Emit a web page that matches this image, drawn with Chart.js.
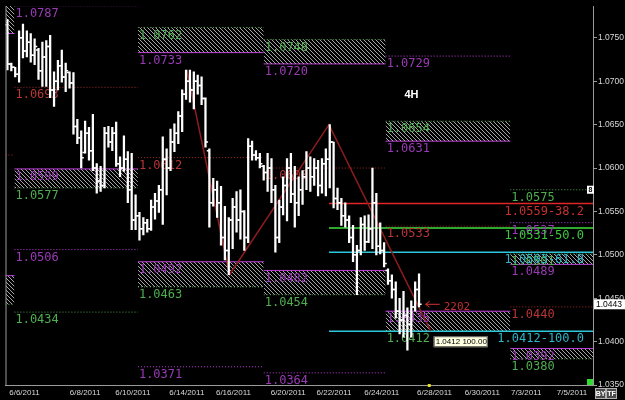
<!DOCTYPE html>
<html>
<head>
<meta charset="utf-8">
<script src="https://cdn.jsdelivr.net/npm/chart.js@4.4.0/dist/chart.umd.min.js"></script>
<style>
html, body { margin: 0; padding: 0; background: #000; }
</style>
</head>
<body>
<canvas id="fxChart" width="625" height="400"></canvas>
<script>
// EUR/USD 4H bars
const highs = [1.0771, 1.0721, 1.0716, 1.0758, 1.0766, 1.0758, 1.0755, 1.0749, 1.0738, 1.0745,
  1.0747, 1.0753, 1.0711, 1.0724, 1.0736, 1.0721, 1.0711, 1.0710, 1.0656, 1.0643,
  1.0654, 1.0647, 1.0662, 1.0605, 1.0602, 1.0647, 1.0648, 1.0647, 1.0653, 1.0613,
  1.0637, 1.0619, 1.0617, 1.0569, 1.0549, 1.0543, 1.0541, 1.0563, 1.0571, 1.0580,
  1.0636, 1.0622, 1.0645, 1.0651, 1.0665, 1.0690, 1.0713, 1.0713, 1.0711, 1.0707,
  1.0705, 1.0681, 1.0622, 1.0588, 1.0585, 1.0579, 1.0556, 1.0543, 1.0565, 1.0573,
  1.0575, 1.0551, 1.0634, 1.0631, 1.0620, 1.0617, 1.0603, 1.0617, 1.0611, 1.0580,
  1.0563, 1.0590, 1.0611, 1.0617, 1.0602, 1.0590, 1.0597, 1.0619, 1.0613, 1.0611,
  1.0609, 1.0611, 1.0622, 1.0650, 1.0630, 1.0577, 1.0565, 1.0560, 1.0545, 1.0534,
  1.0511, 1.0543, 1.0545, 1.0546, 1.0600, 1.0571, 1.0537, 1.0514, 1.0484, 1.0477,
  1.0469, 1.0450, 1.0458, 1.0439, 1.0447, 1.0469, 1.0478];
const lows = [1.0713, 1.0712, 1.0705, 1.0699, 1.0727, 1.0728, 1.0722, 1.0719, 1.0702, 1.0694,
  1.0694, 1.0681, 1.0671, 1.0690, 1.0699, 1.0688, 1.0692, 1.0639, 1.0628, 1.0600,
  1.0617, 1.0609, 1.0597, 1.0571, 1.0573, 1.0577, 1.0624, 1.0620, 1.0602, 1.0590,
  1.0596, 1.0560, 1.0529, 1.0529, 1.0517, 1.0523, 1.0526, 1.0528, 1.0541, 1.0549,
  1.0535, 1.0569, 1.0597, 1.0619, 1.0628, 1.0642, 1.0679, 1.0676, 1.0668, 1.0685,
  1.0673, 1.0624, 1.0532, 1.0556, 1.0543, 1.0511, 1.0494, 1.0477, 1.0507, 1.0526,
  1.0518, 1.0505, 1.0514, 1.0609, 1.0609, 1.0600, 1.0586, 1.0573, 1.0560, 1.0503,
  1.0514, 1.0546, 1.0539, 1.0560, 1.0532, 1.0545, 1.0558, 1.0575, 1.0573, 1.0580,
  1.0568, 1.0571, 1.0568, 1.0577, 1.0554, 1.0552, 1.0534, 1.0532, 1.0514, 1.0492,
  1.0454, 1.0500, 1.0505, 1.0514, 1.0507, 1.0500, 1.0501, 1.0486, 1.0466, 1.0450,
  1.0427, 1.0409, 1.0405, 1.0390, 1.0405, 1.0435, 1.0440];
const opens = [1.0765, 1.0720, 1.0716, 1.0708, 1.0750, 1.0735, 1.0745, 1.0730, 1.0736, 1.0712,
  1.0728, 1.0740, 1.0690, 1.0700, 1.0718, 1.0705, 1.0710, 1.0698, 1.0648, 1.0635,
  1.0618, 1.0640, 1.0620, 1.0600, 1.0585, 1.0580, 1.0640, 1.0630, 1.0640, 1.0605,
  1.0600, 1.0610, 1.0575, 1.0540, 1.0545, 1.0530, 1.0537, 1.0530, 1.0555, 1.0562,
  1.0575, 1.0610, 1.0600, 1.0630, 1.0640, 1.0660, 1.0685, 1.0700, 1.0690, 1.0700,
  1.0695, 1.0680, 1.0620, 1.0560, 1.0575, 1.0560, 1.0520, 1.0505, 1.0540, 1.0555,
  1.0540, 1.0550, 1.0520, 1.0625, 1.0615, 1.0612, 1.0602, 1.0595, 1.0600, 1.0575,
  1.0520, 1.0555, 1.0580, 1.0600, 1.0570, 1.0560, 1.0575, 1.0590, 1.0600, 1.0590,
  1.0600, 1.0580, 1.0605, 1.0610, 1.0630, 1.0565, 1.0560, 1.0545, 1.0540, 1.0520,
  1.0500, 1.0505, 1.0535, 1.0515, 1.0530, 1.0560, 1.0510, 1.0505, 1.0482, 1.0470,
  1.0460, 1.0435, 1.0425, 1.0430, 1.0420, 1.0440, 1.0460];
const closes = [1.0720, 1.0716, 1.0708, 1.0750, 1.0735, 1.0745, 1.0730, 1.0740, 1.0712, 1.0728,
  1.0740, 1.0690, 1.0700, 1.0718, 1.0705, 1.0712, 1.0698, 1.0648, 1.0635, 1.0612,
  1.0640, 1.0620, 1.0600, 1.0585, 1.0580, 1.0640, 1.0630, 1.0640, 1.0605, 1.0600,
  1.0610, 1.0575, 1.0540, 1.0545, 1.0530, 1.0537, 1.0530, 1.0555, 1.0562, 1.0575,
  1.0610, 1.0600, 1.0630, 1.0640, 1.0660, 1.0685, 1.0700, 1.0690, 1.0700, 1.0695,
  1.0680, 1.0630, 1.0560, 1.0575, 1.0560, 1.0520, 1.0505, 1.0540, 1.0555, 1.0540,
  1.0550, 1.0520, 1.0625, 1.0615, 1.0612, 1.0605, 1.0595, 1.0600, 1.0575, 1.0520,
  1.0555, 1.0580, 1.0600, 1.0570, 1.0560, 1.0575, 1.0590, 1.0600, 1.0590, 1.0600,
  1.0580, 1.0605, 1.0610, 1.0630, 1.0565, 1.0560, 1.0545, 1.0540, 1.0520, 1.0500,
  1.0505, 1.0535, 1.0515, 1.0530, 1.0560, 1.0510, 1.0505, 1.0490, 1.0470, 1.0460,
  1.0435, 1.0425, 1.0430, 1.0420, 1.0440, 1.0460, 1.0443];

// axis
const xTickLabels = ['6/6/2011', '6/8/2011', '6/10/2011', '6/14/2011', '6/16/2011', '6/20/2011',
  '6/22/2011', '6/24/2011', '6/28/2011', '6/30/2011', '7/3/2011', '7/5/2011'];
const xTickPos = [4.4, 20, 32.3, 46.2, 58.2, 72.3, 84.1, 96.4, 110, 122.3, 133.6, 145.4];
const yTicks = [1.0350, 1.0400, 1.0450, 1.0500, 1.0550, 1.0600, 1.0650, 1.0700, 1.0750];

// weekly level segments (bar index range)
const segStart = [-0.5, 1.8, 33.6, 66, 97.4, 129.5];
const segEnd = [1.8, 33.6, 66, 97.4, 129.5, 150.8];

// zones: m = weekly, g = green level
const zoneSeg = [0, 0, 1, 2, 2, 3, 3, 4, 4, 5, 5];
const zoneHi = [1.0795, 1.0476, 1.0599, 1.0762, 1.0492, 1.0748, 1.0482, 1.0654, 1.0435, 1.0501, 1.0392];
const zoneLo = [1.0755, 1.0443, 1.0577, 1.0733, 1.0463, 1.0720, 1.0454, 1.0631, 1.0412, 1.0489, 1.0380];
const zoneHiKind = ['m', 'm', 'm', 'g', 'm', 'g', 'm', 'g', 'm', 'g', 'm'];
const zoneLoKind = ['m', 'g', 'g', 'm', 'g', 'm', 'g', 'm', 'g', 'm', 'g'];

// single levels: r = pivot
const lineSeg = [0, 1, 1, 1, 1, 2, 2, 3, 3, 4, 4, 5, 5, 5];
const lineVal = [1.0615, 1.0787, 1.0693, 1.0506, 1.0434, 1.0612, 1.0371, 1.0600, 1.0364, 1.0729, 1.0533, 1.0575, 1.0537, 1.0440];
const lineKind = ['r', 'm', 'r', 'm', 'g', 'r', 'm', 'r', 'm', 'm', 'r', 'g', 'm', 'r'];

// zigzag and fibonacci
const zigX = [46.2, 57.2, 82.8, 109];
const zigY = [1.0713, 1.0477, 1.0650, 1.0412];
const fibStart = 82.8;
const fibVals = [1.0559, 1.0531, 1.0503, 1.0412];
const fibPcts = ['38.2', '50.0', '61.8', '100.0'];
const lastPrice = 1.0443;

const lineColor = { m: '#c23fde', g: '#4f9f4f', r: '#a02c2c' };
const textColor = { m: '#9a3ab6', g: '#4fae4f', r: '#b83636' };
const fibLine = ['#e02626', '#3ee23e', '#2cc8da', '#2cc8da'];
const fibText = ['#c83030', '#3cc83c', '#2cb4c8', '#2cb4c8'];
const labelFont = '12px "DejaVu Sans Mono"';

function hatchPattern() {
  const c = document.createElement('canvas');
  c.width = 4; c.height = 4;
  const g = c.getContext('2d');
  g.strokeStyle = '#a6a6a6';
  g.lineWidth = 1;
  g.beginPath();
  g.moveTo(-1, -1); g.lineTo(5, 5);
  g.moveTo(3, -1); g.lineTo(5, 1);
  g.moveTo(-1, 3); g.lineTo(1, 5);
  g.stroke();
  return g.createPattern(c, 'repeat');
}

function hline(s, v, color, dotted, order) {
  return {
    type: 'line',
    data: [{ x: segStart[s], y: v }, { x: segEnd[s], y: v }],
    borderColor: color,
    borderWidth: 1,
    borderDash: dotted ? [1, 2] : [],
    pointRadius: 0,
    fill: false,
    order: order
  };
}

const datasets = [];
const hatch = hatchPattern();

// zones (top line fills down to the next dataset)
zoneSeg.forEach((s, i) => {
  const top = hline(s, zoneHi[i], lineColor[zoneHiKind[i]], zoneHiKind[i] !== 'm', 4);
  top.fill = '+1';
  top.backgroundColor = hatch;
  datasets.push(top);
  datasets.push(hline(s, zoneLo[i], lineColor[zoneLoKind[i]], zoneLoKind[i] !== 'm', 4));
});

lineSeg.forEach((s, i) => {
  datasets.push(hline(s, lineVal[i], lineColor[lineKind[i]], true, 3));
});

fibVals.forEach((v, i) => {
  datasets.push({
    type: 'line',
    data: [{ x: fibStart, y: v }, { x: segEnd[5], y: v }],
    borderColor: fibLine[i],
    borderWidth: 1.5,
    pointRadius: 0,
    order: 2
  });
});

datasets.push({
  type: 'line',
  label: 'zigzag',
  data: zigX.map((x, i) => ({ x: x, y: zigY[i] })),
  borderColor: '#8e1c1c',
  borderWidth: 1.5,
  pointRadius: 0,
  order: 1
});

// OHLC: high-low range + open / close ticks
datasets.push({
  type: 'bar',
  data: highs.map((h, i) => ({ x: i, y: [lows[i], h] })),
  backgroundColor: '#ffffff',
  barThickness: 1.6,
  grouped: false,
  order: 0
});
datasets.push({
  type: 'line',
  data: opens.map((o, i) => ({ x: i - 0.36, y: o })),
  showLine: false,
  pointStyle: 'line',
  pointRadius: 1.2,
  borderColor: '#ffffff',
  borderWidth: 1.5,
  order: 0
});
datasets.push({
  type: 'line',
  data: closes.map((c, i) => ({ x: i + 0.36, y: c })),
  showLine: false,
  pointStyle: 'line',
  pointRadius: 1.2,
  borderColor: '#ffffff',
  borderWidth: 1.5,
  order: 0
});

function drawLabel(ctx, x, y, text, color, align) {
  ctx.font = labelFont;
  ctx.fillStyle = color;
  ctx.textAlign = align || 'left';
  ctx.textBaseline = 'top';
  ctx.fillText(text, x, y);
}

// level labels go under the bars
const levelLabels = {
  id: 'levelLabels',
  afterDatasetDraw(chart, args) {
    if (chart.data.datasets[args.index].label !== 'zigzag') return;
    const ctx = chart.ctx, xs = chart.scales.x, ys = chart.scales.y;
    ctx.save();
    zoneSeg.forEach((s, i) => {
      if (s === 0) return;
      const x = xs.getPixelForValue(segStart[s]) + 1;
      drawLabel(ctx, x, ys.getPixelForValue(zoneHi[i]) + 2, zoneHi[i].toFixed(4), textColor[zoneHiKind[i]]);
      drawLabel(ctx, x, ys.getPixelForValue(zoneLo[i]) + 2, zoneLo[i].toFixed(4), textColor[zoneLoKind[i]]);
    });
    lineSeg.forEach((s, i) => {
      if (s === 0) return;
      const x = xs.getPixelForValue(segStart[s]) + 1;
      drawLabel(ctx, x, ys.getPixelForValue(lineVal[i]) + 2, lineVal[i].toFixed(4), textColor[lineKind[i]]);
    });
    fibVals.forEach((v, i) => {
      drawLabel(ctx, xs.getPixelForValue(segEnd[5]) - 9, ys.getPixelForValue(v) + 2,
        v.toFixed(4) + '-' + fibPcts[i], fibText[i], 'right');
    });
    ctx.restore();
  }
};

const decorations = {
  id: 'decorations',
  beforeDraw(chart) {
    const ctx = chart.ctx;
    ctx.save();
    ctx.fillStyle = '#000';
    ctx.fillRect(0, 0, chart.width, chart.height);
    ctx.restore();
  },
  afterDraw(chart) {
    const ctx = chart.ctx, xs = chart.scales.x, ys = chart.scales.y, a = chart.chartArea;
    ctx.save();
    // left frame
    ctx.strokeStyle = '#9a9a9a';
    ctx.lineWidth = 1;
    ctx.beginPath();
    ctx.moveTo(a.left + 0.5, a.top);
    ctx.lineTo(a.left + 0.5, a.bottom);
    ctx.stroke();

    ctx.fillStyle = '#ffffff';
    ctx.font = 'bold 11px "Liberation Sans"';
    ctx.textAlign = 'left';
    ctx.textBaseline = 'top';
    ctx.fillText('4H', a.left + 399, a.top + 83);

    // arrow to the last bar
    const ay = ys.getPixelForValue(lastPrice);
    const ax = xs.getPixelForValue(highs.length + 0.7);
    ctx.strokeStyle = '#d83232';
    ctx.lineWidth = 1;
    ctx.beginPath();
    ctx.moveTo(ax + 14, ay); ctx.lineTo(ax, ay);
    ctx.moveTo(ax + 4, ay - 3); ctx.lineTo(ax, ay); ctx.lineTo(ax + 4, ay + 3);
    ctx.stroke();
    ctx.fillStyle = '#c03030';
    ctx.font = '11px "DejaVu Sans Mono"';
    ctx.textBaseline = 'middle';
    ctx.fillText('2202', ax + 18, ay + 3);

    // fib 100 box
    const bx = xs.getPixelForValue(zigX[3]) + 3, by = ys.getPixelForValue(fibVals[3]) + 5;
    ctx.fillStyle = '#ffffe1';
    ctx.fillRect(bx, by, 54, 11);
    ctx.strokeStyle = '#505050';
    ctx.strokeRect(bx + 0.5, by + 0.5, 53, 10);
    ctx.fillStyle = '#000';
    ctx.font = '8px "Liberation Sans"';
    ctx.textBaseline = 'middle';
    ctx.fillText('1.0412 100.00', bx + 2, by + 6);

    // last price box on the axis
    ctx.fillStyle = '#ffffff';
    ctx.fillRect(a.right + 1, ay - 5, 31, 10);
    ctx.fillStyle = '#000';
    ctx.textAlign = 'center';
    ctx.font = '8.5px "Liberation Sans"';
    ctx.fillText(lastPrice.toFixed(4), a.right + 16, ay);

    // small markers
    ctx.fillStyle = '#ffffff';
    ctx.fillRect(a.right - 6, ys.getPixelForValue(1.0575) - 4, 7, 8);
    ctx.fillStyle = '#000';
    ctx.font = 'bold 7px "Liberation Sans"';
    ctx.fillText('8', a.right - 2.5, ys.getPixelForValue(1.0575));
    ctx.fillStyle = '#2fdc2f';
    ctx.fillRect(a.right - 6, a.bottom - 6, 6, 6);
    ctx.fillStyle = '#e8e020';
    ctx.fillRect(xs.getPixelForValue(highs.length + 1.5) - 1, a.bottom - 1, 3, 3);

    ['BY', 'TF'].forEach((t, i) => {
      const x = a.right + 2 + i * 11;
      ctx.fillStyle = '#4a4a4a';
      ctx.fillRect(x, a.bottom + 3, 11, 11);
      ctx.strokeStyle = '#b0b0b0';
      ctx.strokeRect(x + 0.5, a.bottom + 3.5, 10, 10);
      ctx.fillStyle = '#ffffff';
      ctx.font = 'bold 7px "Liberation Sans"';
      ctx.fillText(t, x + 5.5, a.bottom + 9);
    });
    ctx.restore();
  }
};

new Chart(document.getElementById('fxChart'), {
  type: 'bar',
  data: { datasets: datasets },
  options: {
    responsive: false,
    animation: false,
    events: [],
    layout: { padding: { left: 3, right: 0, top: 0, bottom: 0 } },
    plugins: { legend: { display: false }, tooltip: { enabled: false } },
    scales: {
      x: {
        type: 'linear',
        min: -0.5,
        max: 150.8,
        offset: false,
        afterBuildTicks: s => { s.ticks = xTickPos.map(v => ({ value: v })); },
        afterFit: s => { s.height = 15; },
        grid: { display: false, drawTicks: false, tickLength: 0, offset: false },
        border: { color: '#9a9a9a' },
        ticks: {
          autoSkip: false,
          maxRotation: 0,
          padding: 3,
          color: '#d8d8d8',
          font: { size: 8, family: '"Liberation Sans"' },
          callback: (v, i) => xTickLabels[i]
        }
      },
      y: {
        type: 'linear',
        position: 'right',
        min: 1.0350,
        max: 1.07866,
        afterBuildTicks: s => { s.ticks = yTicks.map(v => ({ value: v })); },
        afterFit: s => { s.width = 32; },
        grid: { drawOnChartArea: false, tickLength: 4, color: '#9a9a9a' },
        border: { color: '#9a9a9a' },
        ticks: {
          padding: 1,
          color: '#d8d8d8',
          font: { size: 8.5, family: '"Liberation Sans"' },
          callback: v => v.toFixed(4)
        }
      }
    }
  },
  plugins: [levelLabels, decorations]
});
</script>
</body>
</html>
